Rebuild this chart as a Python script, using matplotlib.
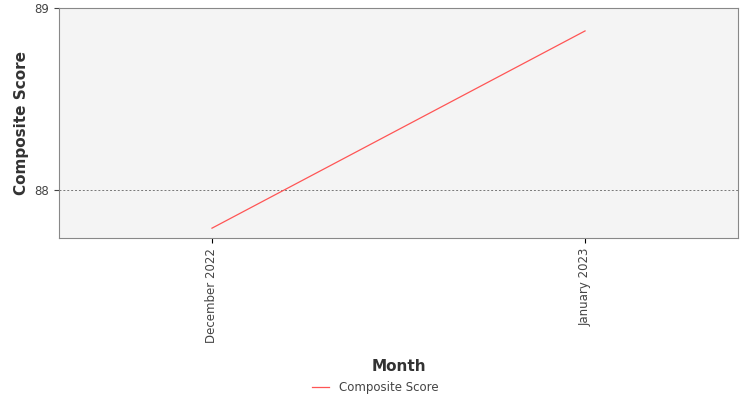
import matplotlib
matplotlib.use("Agg")
import matplotlib.pyplot as plt
from matplotlib.lines import Line2D

months = ["December 2022", "January 2023"]
scores = [87.79, 88.874]

fig = plt.figure(figsize=(7.5, 4), dpi=100)
ax = fig.add_axes([0.0787, 0.405, 0.9053, 0.575])
ax.set_facecolor("#f4f4f4")

x = list(range(len(months)))
ax.plot(x, scores, color="#ff5555", linewidth=0.9)

ax.set_xlim(-0.41, 1.41)
ax.set_ylim(87.736, 89.0)
ax.set_yticks([88, 89])
ax.set_xticks(x)
ax.set_xticklabels(months, rotation=90, fontsize=8.5, color="#444444")
ax.tick_params(axis="y", labelsize=8.5, colors="#444444")
ax.grid(axis="y", linestyle=(0, (2, 2)), color="#777777", linewidth=0.7)
for s in ax.spines.values():
    s.set_color("#888888")

ax.set_xlabel("Month", fontsize=11, color="#333333", fontweight="bold", labelpad=12)
ax.set_ylabel("Composite Score", fontsize=11, color="#333333", fontweight="bold")

handle = Line2D([], [], color="#ff5555", linewidth=0.9)
fig.legend([handle], ["Composite Score"], loc="center", bbox_to_anchor=(0.5, 0.032),
           frameon=False, fontsize=8.5, handlelength=1.5, labelcolor="#444444")

fig.savefig("out.png", dpi=100)
